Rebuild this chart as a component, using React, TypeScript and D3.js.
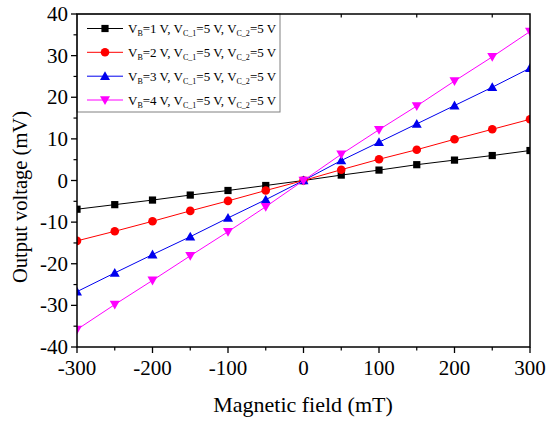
import React from "react";
import * as d3 from "d3";

const fieldMT = [-300, -250, -200, -150, -100, -50, 0, 50, 100, 150, 200, 250, 300];
const seriesVB1 = [-6.9, -5.8, -4.7, -3.5, -2.4, -1.2, 0, 1.3, 2.5, 3.8, 4.9, 6.0, 7.2];
const seriesVB2 = [-14.5, -12.2, -9.8, -7.3, -4.9, -2.4, 0, 2.6, 5.1, 7.4, 9.9, 12.3, 14.7];
const seriesVB3 = [-26.7, -22.2, -17.8, -13.5, -9.0, -4.6, 0, 4.8, 9.2, 13.6, 18.0, 22.4, 27.0];
const seriesVB4 = [-35.8, -29.8, -24.0, -18.1, -12.3, -6.3, 0, 6.3, 12.2, 17.9, 23.9, 29.7, 35.8];
const vbLabels = ["1", "2", "3", "4"];
const xTicks = [-300, -200, -100, 0, 100, 200, 300];
const yTicks = [-40, -30, -20, -10, 0, 10, 20, 30, 40];

const W = 550, H = 423;
const L = 77, R = 530, T = 14, B = 347;
const font = "'Liberation Serif', 'Times New Roman', serif";

type Shape = "square" | "circle" | "up" | "down";
const series: { vals: number[]; color: string; shape: Shape }[] = [
  { vals: seriesVB1, color: "#000000", shape: "square" },
  { vals: seriesVB2, color: "#ff0000", shape: "circle" },
  { vals: seriesVB3, color: "#0000ee", shape: "up" },
  { vals: seriesVB4, color: "#ff00ff", shape: "down" },
];

function Marker({ x, y, shape, color }: { x: number; y: number; shape: Shape; color: string }) {
  if (shape === "square") return <rect x={x - 3.6} y={y - 3.6} width={7.2} height={7.2} fill={color} />;
  if (shape === "circle") return <circle cx={x} cy={y} r={4.3} fill={color} />;
  if (shape === "up") return <path d={`M${x},${y - 5} L${x + 5},${y + 3.8} L${x - 5},${y + 3.8} Z`} fill={color} />;
  return <path d={`M${x},${y + 5} L${x + 5},${y - 3.8} L${x - 5},${y - 3.8} Z`} fill={color} />;
}

export default function App() {
  const x = d3.scaleLinear().domain([-300, 300]).range([L, R]);
  const y = d3.scaleLinear().domain([-40, 40]).range([B, T]);
  const line = d3.line<number>().x((_, i) => x(fieldMT[i])).y((v) => y(v));
  const xMinor = d3.range(-250, 300, 100);
  const yMinor = d3.range(-35, 40, 10);
  const topMinor = [50, 150, 250];

  const legX = L, legY = T, legW = 203, legH = 98;
  const rowY = [28.5, 52.3, 76.2, 100];

  return (
    <svg width={W} height={H} style={{ position: "absolute", left: 0, top: 0, background: "#fff" }} fontFamily={font}>
      <defs>
        <clipPath id="plot">
          <rect x={L} y={T} width={R - L} height={B - T} />
        </clipPath>
      </defs>
      <g clipPath="url(#plot)">
        {series.map((s, si) => (
          <g key={si}>
            <path d={line(s.vals) || ""} fill="none" stroke={s.color} strokeWidth={1} />
            {s.vals.map((v, i) => (
              <Marker key={i} x={x(fieldMT[i])} y={y(v)} shape={s.shape} color={s.color} />
            ))}
          </g>
        ))}
      </g>
      {/* legend */}
      <rect x={legX} y={legY} width={legW} height={legH} fill="#fff" stroke="#808080" strokeWidth={1} />
      {series.map((s, si) => (
        <g key={si}>
          <line x1={87} x2={123} y1={rowY[si]} y2={rowY[si]} stroke={s.color} strokeWidth={1} />
          <Marker x={105} y={rowY[si]} shape={s.shape} color={s.color} />
          <text x={128} y={rowY[si] + 4.5} fontSize={13} fill="#000">
            V<tspan fontSize={8} dy={3}>B</tspan>
            <tspan dy={-3}>={vbLabels[si]} V, V</tspan>
            <tspan fontSize={8} dy={3}>C_1</tspan>
            <tspan dy={-3}>=5 V, V</tspan>
            <tspan fontSize={8} dy={3}>C_2</tspan>
            <tspan dy={-3}>=5 V</tspan>
          </text>
        </g>
      ))}
      {/* frame */}
      <rect x={L} y={T} width={R - L} height={B - T} fill="none" stroke="#000" strokeWidth={1.5} />
      {/* x ticks */}
      {xTicks.map((t) => (
        <g key={t}>
          <line x1={x(t)} x2={x(t)} y1={B} y2={B + 6} stroke="#000" strokeWidth={1.3} />
          <text x={x(t)} y={375} fontSize={21} textAnchor="middle">{t}</text>
        </g>
      ))}
      {xMinor.map((t) => (
        <line key={t} x1={x(t)} x2={x(t)} y1={B} y2={B + 3.5} stroke="#000" strokeWidth={1.2} />
      ))}
      {topMinor.map((t) => (
        <line key={t} x1={x(t)} x2={x(t)} y1={T} y2={T + 3.5} stroke="#000" strokeWidth={1.2} />
      ))}
      {/* y ticks */}
      {yTicks.map((t) => (
        <g key={t}>
          <line x1={L - 6} x2={L} y1={y(t)} y2={y(t)} stroke="#000" strokeWidth={1.3} />
          <text x={L - 9} y={y(t) + 7} fontSize={21} textAnchor="end">{t}</text>
        </g>
      ))}
      {yMinor.map((t) => (
        <line key={t} x1={L - 3.5} x2={L} y1={y(t)} y2={y(t)} stroke="#000" strokeWidth={1.2} />
      ))}
      <text x={303} y={412} fontSize={22} textAnchor="middle">Magnetic field (mT)</text>
      <text transform={`translate(27,197) rotate(-90)`} fontSize={20.5} textAnchor="middle">
        Output voltage (mV)
      </text>
    </svg>
  );
}
